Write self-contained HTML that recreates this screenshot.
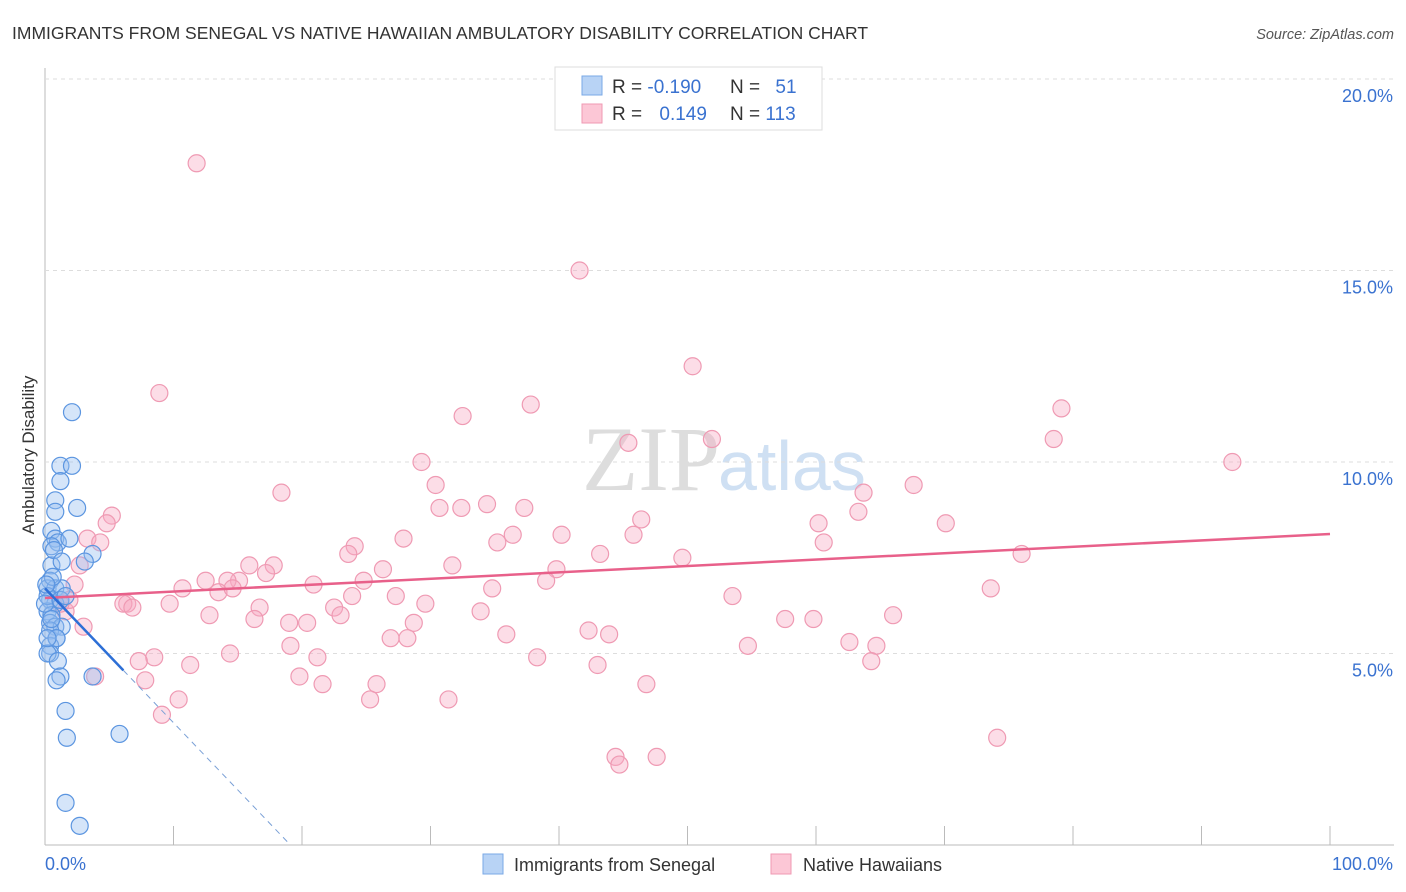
<!DOCTYPE html>
<html><head><meta charset="utf-8"><style>
body{margin:0;background:#fff;font-family:"Liberation Sans",sans-serif;}
svg{display:block}
</style></head><body>
<svg id="chart" width="1406" height="892" xmlns="http://www.w3.org/2000/svg">
<text x="12" y="39" font-size="17.5" fill="#333">IMMIGRANTS FROM SENEGAL VS NATIVE HAWAIIAN AMBULATORY DISABILITY CORRELATION CHART</text>
<text x="1394" y="39" font-size="14.5" fill="#555" font-style="italic" text-anchor="end">Source: ZipAtlas.com</text>
<text x="720" y="490" font-size="92" fill="#ddd" text-anchor="end" font-family="Liberation Serif,serif">ZIP</text>
<text x="718" y="490" font-size="70" fill="#cfe0f3">atlas</text>
<text x="34" y="455" font-size="17" fill="#333" text-anchor="middle" transform="rotate(-90 34 455)">Ambulatory Disability</text>
<g id="grid"></g><g id="pts"></g><g id="trend"></g>
<g>
<rect x="555" y="67" width="267" height="63" fill="#fff" stroke="#ddd"/>
<rect x="582" y="76" width="20" height="19" fill="#b8d3f5" stroke="#7aa8e6"/>
<rect x="582" y="104" width="20" height="19" fill="#fcc7d6" stroke="#ef9ab3"/>
<text x="612" y="93" font-size="19" fill="#333">R = <tspan fill="#3a72d0">-0.190</tspan></text>
<text x="730" y="93" font-size="19" fill="#333">N = <tspan fill="#3a72d0" dx="10">51</tspan></text>
<text x="612" y="120" font-size="19" fill="#333">R = <tspan fill="#3a72d0" dx="12">0.149</tspan></text>
<text x="730" y="120" font-size="19" fill="#333">N = <tspan fill="#3a72d0">113</tspan></text>
</g>
<g>
<rect x="483" y="854" width="20" height="20" fill="#b8d3f5" stroke="#7aa8e6"/>
<text x="514" y="871" font-size="18" fill="#333">Immigrants from Senegal</text>
<rect x="771" y="854" width="20" height="20" fill="#fcc7d6" stroke="#ef9ab3"/>
<text x="803" y="871" font-size="18" fill="#333">Native Hawaiians</text>
</g>
</svg>
<script>
const yTicks=[5,10,15,20];
const yTickLabels=["5.0%","10.0%","15.0%","20.0%"];
const xTickLabels=["0.0%","100.0%"];
const blueX=[2.1,1.2,2.1,1.2,0.8,0.8,2.5,0.5,0.8,1.0,0.5,1.9,3.7,3.1,0.5,0.4,0.2,0.8,1.3,0.4,0.8,0.2,0.5,0.4,0.8,1.3,0.4,0.9,0.4,0.4,0.2,1.0,1.2,0.9,1.6,1.7,5.8,1.6,2.7,3.7,0.2,0.0,1.2,0.9,0.5,1.6,0.6,0.1,0.2,0.7,1.3];
const blueY=[11.3,9.9,9.9,9.5,9.0,8.7,8.8,8.2,8.0,7.9,7.8,8.0,7.6,7.4,7.3,6.9,6.7,6.7,6.7,6.4,6.3,6.1,6.0,5.8,5.7,5.7,5.6,5.4,5.2,5.0,5.0,4.8,4.4,4.3,3.5,2.8,2.9,1.1,0.5,4.4,6.5,6.3,6.4,5.4,5.9,6.5,7.0,6.8,5.4,7.7,7.4];
const pinkX=[11.8,41.6,50.4,8.9,32.5,37.8,79.1,78.5,45.4,51.9,92.4,29.3,30.4,18.4,63.7,67.6,30.7,32.4,34.4,37.3,5.2,4.8,46.4,63.3,70.1,60.2,3.3,4.3,27.9,36.4,35.2,40.2,45.8,60.6,24.1,23.6,43.2,49.6,76.0,15.9,17.8,2.7,17.2,31.7,26.3,39.8,39.0,12.5,15.1,24.8,20.9,14.2,13.5,10.7,14.6,2.3,34.8,73.6,23.9,27.3,53.5,6.4,9.7,6.1,16.7,6.8,29.6,33.9,22.5,23.0,12.8,16.3,28.7,19.0,20.4,57.6,59.8,66.0,26.9,28.2,35.9,42.3,43.9,19.1,62.6,64.7,54.7,14.4,38.3,21.2,8.5,7.3,11.3,43.0,64.3,19.8,7.8,21.6,25.8,46.8,10.4,31.4,25.3,9.1,74.1,44.4,44.7,47.6,3.9,1.6,1.9,1.2,3.0];
const pinkY=[17.8,15.0,12.5,11.8,11.2,11.5,11.4,10.6,10.5,10.6,10.0,10.0,9.4,9.2,9.2,9.4,8.8,8.8,8.9,8.8,8.6,8.4,8.5,8.7,8.4,8.4,8.0,7.9,8.0,8.1,7.9,8.1,8.1,7.9,7.8,7.6,7.6,7.5,7.6,7.3,7.3,7.3,7.1,7.3,7.2,7.2,6.9,6.9,6.9,6.9,6.8,6.9,6.6,6.7,6.7,6.8,6.7,6.7,6.5,6.5,6.5,6.3,6.3,6.3,6.2,6.2,6.3,6.1,6.2,6.0,6.0,5.9,5.8,5.8,5.8,5.9,5.9,6.0,5.4,5.4,5.5,5.6,5.5,5.2,5.3,5.2,5.2,5.0,4.9,4.9,4.9,4.8,4.7,4.7,4.8,4.4,4.3,4.2,4.2,4.2,3.8,3.8,3.8,3.4,2.8,2.3,2.1,2.3,4.4,6.1,6.4,6.3,5.7];
const blueTrend=[6.7,-0.113,6.1,19.1];
const pinkTrend=[6.45,8.12];
const X=v=>45+v*12.85, Y=v=>845-v*38.3;
const NS="http://www.w3.org/2000/svg";
function mk(p,t,a){const e=document.createElementNS(NS,t);for(const k in a)e.setAttribute(k,a[k]);document.getElementById(p).appendChild(e);return e;}
let ax=mk('grid','line',{x1:45,y1:68,x2:45,y2:845,stroke:'#bbb'});


let bx=mk('grid','line',{x1:45,y1:845,x2:1394,y2:845,stroke:'#bbb'});


for(let i=1;i<=10;i++){const t=mk('grid','line',{x1:X(i*10),y1:826,x2:X(i*10),y2:845,stroke:'#bbb'});

}
yTicks.forEach((v,i)=>{const g=mk('grid','line',{x1:45,y1:Y(v),x2:1394,y2:Y(v),stroke:'#ddd','stroke-dasharray':'4,4'});


const t=mk('grid','text',{x:1393,y:Y(v)+23,'font-size':18,fill:'#3a72d0','text-anchor':'end'});t.textContent=yTickLabels[i];

});
xTickLabels.forEach((s,i)=>{const t=mk('grid','text',{x:i?1393:45,y:870,'font-size':18,fill:'#3a72d0','text-anchor':i?'end':'start'});t.textContent=s;

});
pinkX.forEach((v,i)=>{const c=mk('pts','circle',{cx:X(v),cy:Y(pinkY[i]),r:8.5,fill:'rgba(248,170,195,0.4)',stroke:'#ef9ab3','stroke-width':1.2});

});
blueX.forEach((v,i)=>{const c=mk('pts','circle',{cx:X(v),cy:Y(blueY[i]),r:8.5,fill:'rgba(150,190,240,0.4)',stroke:'#5b95e0','stroke-width':1.2});

});
let pl=mk('trend','line',{x1:X(0),y1:Y(pinkTrend[0]),x2:X(100),y2:Y(pinkTrend[1]),stroke:'#e8608a','stroke-width':2.5});


const bs=v=>blueTrend[0]+blueTrend[1]*v*blueTrend[0]/0.757;
const by=v=>blueTrend[0]*(1-v/blueTrend[3]);
let bl=mk('trend','line',{x1:X(0),y1:Y(by(0)),x2:X(blueTrend[2]),y2:Y(by(blueTrend[2])),stroke:'#2d6fd6','stroke-width':2.5});


let bd=mk('trend','line',{x1:X(blueTrend[2]),y1:Y(by(blueTrend[2])),x2:X(blueTrend[3]),y2:Y(0),stroke:'#7aa0d6','stroke-width':1,'stroke-dasharray':'6,5'});


</script>
</body></html>
